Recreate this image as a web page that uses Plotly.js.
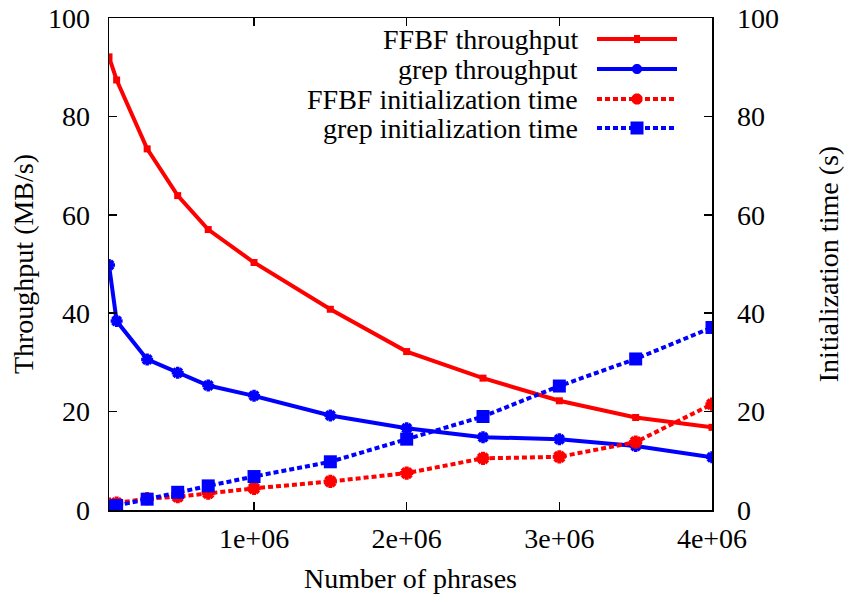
<!DOCTYPE html>
<html>
<head>
<meta charset="utf-8">
<script src="https://cdn.plot.ly/plotly-3.0.1.min.js"></script>
<style>html,body{margin:0;padding:0;background:#fff}#chart{width:849px;height:602px}</style>
</head>
<body>
<div id="chart"></div>
<script>
const phrases = [50000, 100000, 300000, 500000, 700000, 1000000, 1500000, 2000000, 2500000, 3000000, 3500000, 4000000];
const ffbfThroughput = [92.1, 87.4, 73.4, 63.9, 57.0, 50.3, 40.8, 32.2, 26.8, 22.2, 18.8, 16.8];
const grepThroughput = [49.8, 38.4, 30.6, 27.9, 25.3, 23.2, 19.2, 16.6, 14.8, 14.4, 13.0, 10.7];
const ffbfInit = [1.2, 1.4, 2.3, 2.7, 3.4, 4.4, 5.8, 7.5, 10.5, 10.8, 13.8, 21.5];
const grepInit = [0.7, 0.9, 2.2, 3.6, 4.9, 6.8, 9.8, 14.4, 19.0, 25.2, 30.7, 37.1];
const seriesNames = ["FFBF throughput", "grep throughput", "FFBF initialization time", "grep initialization time"];
const xTickVals = [1000000, 2000000, 3000000, 4000000];
const xTickText = ["1e+06", "2e+06", "3e+06", "4e+06"];
const yTickVals = [0, 20, 40, 60, 80, 100];

const RED = "#ff0000", BLUE = "#0000ff";
const FONT = "'Liberation Serif', 'Times New Roman', serif";

const traces = [
  {x: phrases, y: ffbfThroughput, name: seriesNames[0], mode: "lines+markers",
   line: {color: RED, width: 4}, marker: {symbol: "square", size: 7, color: RED}},
  {x: phrases, y: grepThroughput, name: seriesNames[1], mode: "lines+markers",
   line: {color: BLUE, width: 4}, marker: {symbol: "asterisk-open", size: 10, color: BLUE, line: {color: BLUE, width: 3.5}}},
  {x: phrases, y: ffbfInit, name: seriesNames[2], mode: "lines+markers", yaxis: "y2",
   line: {color: RED, width: 4, dash: "5px,3px"}, marker: {symbol: "asterisk-open", size: 11, color: RED, line: {color: RED, width: 4}}},
  {x: phrases, y: grepInit, name: seriesNames[3], mode: "lines+markers", yaxis: "y2",
   line: {color: BLUE, width: 4, dash: "5px,3px"}, marker: {symbol: "square", size: 13, color: BLUE}}
];

const L = 109, R = 712, T = 18, B = 510;
const px = v => (v - L) / (R - L);
const py = v => (B - v) / (B - T);
const rowsY = [39, 69, 99, 128];
const colors = [RED, BLUE, RED, BLUE];
const annotations = [], shapes = [];
seriesNames.forEach((n, i) => {
  annotations.push({xref: "paper", yref: "paper", x: px(580), y: py(rowsY[i]), xanchor: "right", yanchor: "middle",
    text: n, showarrow: false, font: {family: FONT, size: 28, color: "#000"}});
  shapes.push({type: "line", xref: "paper", yref: "paper", x0: px(597), x1: px(677), y0: py(rowsY[i]), y1: py(rowsY[i]),
    line: {color: colors[i], width: 4, dash: i < 2 ? "solid" : "5px,3px"}});
});
const mx = 637;
function rectShape(cx, cy, w, h, c) {
  return {type: "rect", xref: "paper", yref: "paper", x0: px(cx - w / 2), x1: px(cx + w / 2), y0: py(cy + h / 2), y1: py(cy - h / 2),
    fillcolor: c, line: {width: 0}};
}
function asteriskShape(cx, cy, r, c, w) {
  let d = "";
  for (let k = 0; k < 4; k++) {
    const a = k * Math.PI / 4;
    const dx = r * Math.cos(a), dy = r * Math.sin(a);
    d += `M${px(cx - dx)},${py(cy - dy)} L${px(cx + dx)},${py(cy + dy)} `;
  }
  return {type: "path", xref: "paper", yref: "paper", path: d, line: {color: c, width: w}};
}
shapes.push(rectShape(mx, rowsY[0], 6, 8, RED));
shapes.push(asteriskShape(mx, rowsY[1], 5, BLUE, 3.5));
shapes.push(asteriskShape(mx, rowsY[2], 5.5, RED, 4));
shapes.push(rectShape(mx, rowsY[3], 13, 13, BLUE));

const axisCommon = {
  showgrid: false, zeroline: false, showline: true, linecolor: "#000", linewidth: 1.5,
  ticks: "inside", ticklen: 8, tickwidth: 1.5, tickcolor: "#000",
  tickfont: {family: FONT, size: 28, color: "#000"}
};

const layout = {
  width: 849, height: 602,
  margin: {l: L, r: 849 - R, t: T, b: 602 - B},
  paper_bgcolor: "#fff", plot_bgcolor: "#fff",
  showlegend: false,
  font: {family: FONT, size: 28, color: "#000"},
  xaxis: Object.assign({}, axisCommon, {
    range: [phrases[0], 4000000], tickvals: xTickVals, ticktext: xTickText, mirror: "ticks",
    ticklabelstandoff: 3,
    title: {text: "Number of phrases", font: {family: FONT, size: 28}, standoff: 15}
  }),
  yaxis: Object.assign({}, axisCommon, {
    range: [0, 100], tickvals: yTickVals, mirror: "ticks",
    ticklabelstandoff: 12,
    title: {text: "Throughput (MB/s)", font: {family: FONT, size: 28}, standoff: 6}
  }),
  yaxis2: Object.assign({}, axisCommon, {
    range: [0, 100], tickvals: yTickVals, overlaying: "y", side: "right",
    ticklabelstandoff: 18,
    title: {text: "Initialization time (s)", font: {family: FONT, size: 28}, standoff: 40}
  }),
  annotations: annotations,
  shapes: shapes
};

Plotly.newPlot("chart", traces, layout, {displayModeBar: false, staticPlot: true});
</script>
</body>
</html>
